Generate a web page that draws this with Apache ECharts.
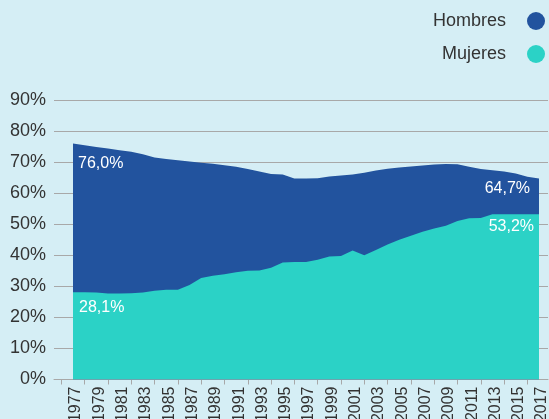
<!DOCTYPE html>
<html>
<head>
<meta charset="utf-8">
<script src="https://cdn.jsdelivr.net/npm/echarts@6/dist/echarts.min.js"></script>
<style>
html,body{margin:0;padding:0;background:#d5eef5;}
#chart{width:549px;height:419px;}
</style>
</head>
<body>
<div id="chart"></div>
<script>
const years = [1977,1978,1979,1980,1981,1982,1983,1984,1985,1986,1987,1988,1989,1990,1991,1992,1993,1994,1995,1996,1997,1998,1999,2000,2001,2002,2003,2004,2005,2006,2007,2008,2009,2010,2011,2012,2013,2014,2015,2016,2017];
const hombres = [76.0,75.4,74.9,74.4,73.8,73.3,72.5,71.5,71.0,70.6,70.2,69.8,69.5,69.0,68.5,67.8,67.0,66.2,66.0,64.7,64.7,64.8,65.4,65.7,66.0,66.6,67.3,67.9,68.3,68.6,68.9,69.2,69.4,69.3,68.5,67.8,67.4,67.0,66.3,65.3,64.7];
const mujeres = [28.1,28.1,28.0,27.7,27.7,27.8,28.0,28.6,28.9,28.9,30.4,32.7,33.4,33.9,34.5,35.0,35.1,36.0,37.7,37.8,37.8,38.6,39.6,39.8,41.5,40.0,41.7,43.5,45.0,46.3,47.6,48.6,49.5,51.0,51.9,52.0,53.2,53.2,53.2,53.2,53.2];
const xLabelYears = [1977,1979,1981,1983,1985,1987,1989,1991,1993,1995,1997,1999,2001,2003,2005,2007,2009,2011,2013,2015,2017];
const xTickYears = [1976,1978,1980,1982,1984,1986,1988,1990,1992,1994,1996,1998,2000,2002,2004,2006,2008,2010,2012,2014,2016];
const yTicks = [0,10,20,30,40,50,60,70,80,90];
const seriesNames = ['Hombres','Mujeres'];

const fmt = v => v.toFixed(1).replace('.', ',') + '%';
function buildData(vals, firstLabel, lastLabel) {
  return years.map((y, i) => {
    const item = { value: [y, vals[i]] };
    if (i === 0) item.label = firstLabel;
    if (i === years.length - 1) item.label = lastLabel;
    return item;
  });
}
const lbl = (pos, align) => ({
  show: true, position: pos, align: align, verticalAlign: 'middle',
  color: '#ffffff', fontSize: 16,
  formatter: p => fmt(p.value[1])
});

const chart = echarts.init(document.getElementById('chart'), null, {renderer: 'canvas'});
chart.setOption({
  animation: false,
  backgroundColor: '#d5eef5',
  textStyle: { fontFamily: 'Liberation Sans, Arial, sans-serif' },
  legend: {
    data: seriesNames,
    orient: 'vertical',
    right: 4, top: 12,
    padding: 0,
    icon: 'circle',
    itemWidth: 18, itemHeight: 18, itemGap: 15,
    align: 'right',
    formatter: '{a|{name}}',
    textStyle: { fontSize: 18, color: '#333', rich: { a: { fontSize: 18, color: '#333', padding: [0, 16, 0, 0] } } }
  },
  grid: { left: 54, right: 1, top: 100, bottom: 39.5, containLabel: false, outerBoundsMode: 'none' },
  xAxis: {
    type: 'value',
    min: 1975.37, max: 2017.77,
    splitLine: { show: false },
    axisLine: { lineStyle: { color: '#a8a8a8' } },
    axisTick: { customValues: xTickYears, length: 5, lineStyle: { color: '#a8a8a8' } },
    axisLabel: {
      customValues: xLabelYears, rotate: 90, color: '#333', margin: 7,
      formatter: v => '{y|' + v + '}',
      rich: { y: { fontSize: 16, color: '#333', padding: [6, 0, 0, 0] } }
    }
  },
  yAxis: {
    type: 'value', min: yTicks[0], max: yTicks[yTicks.length - 1], interval: 10,
    axisLine: { show: false },
    axisTick: { show: false },
    axisLabel: { formatter: '{value}%', fontSize: 18, color: '#333', margin: 8 },
    splitLine: { lineStyle: { color: '#a8a8a8', width: 1 } }
  },
  series: [
    {
      name: seriesNames[0], type: 'line',
      data: buildData(hombres, lbl([5, 20], 'left'), lbl([-9, 10.5], 'right')),
      symbol: 'circle', symbolSize: 0, showSymbol: true,
      lineStyle: { width: 0 },
      itemStyle: { color: '#22539e' },
      areaStyle: { color: '#22539e', opacity: 1 },
      label: { show: false },
      z: 2
    },
    {
      name: seriesNames[1], type: 'line',
      data: buildData(mujeres, lbl([6, 15], 'left'), lbl([-5, 12], 'right')),
      symbol: 'circle', symbolSize: 0, showSymbol: true,
      lineStyle: { width: 0 },
      itemStyle: { color: '#2bd2c6' },
      areaStyle: { color: '#2bd2c6', opacity: 1 },
      label: { show: false },
      z: 3
    }
  ]
});
</script>
</body>
</html>
